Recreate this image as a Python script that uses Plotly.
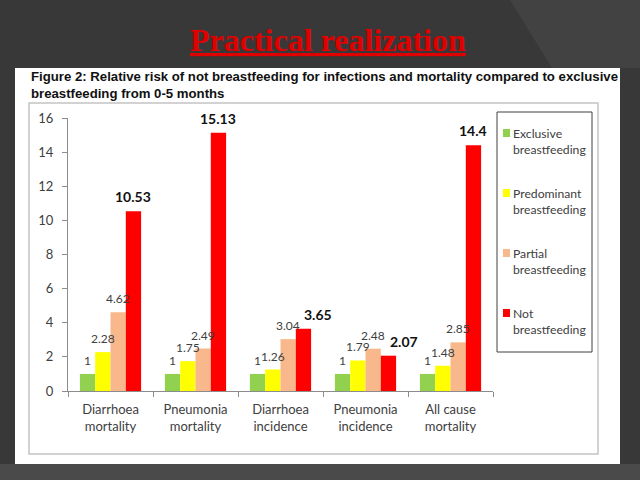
import plotly.graph_objects as go

categories = ["Diarrhoea<br>mortality", "Pneumonia<br>mortality", "Diarrhoea<br>incidence",
              "Pneumonia<br>incidence", "All cause<br>mortality"]
series_names = ["Exclusive<br>breastfeeding", "Predominant<br>breastfeeding",
                "Partial<br>breastfeeding", "Not<br>breastfeeding"]
exclusive = [1, 1, 1, 1, 1]
predominant = [2.28, 1.75, 1.26, 1.79, 1.48]
partial = [4.62, 2.49, 3.04, 2.48, 2.85]
not_bf = [10.53, 15.13, 3.65, 2.07, 14.4]
y_ticks = [0, 2, 4, 6, 8, 10, 12, 14, 16]

colors = ["#92d050", "#ffff00", "#f8b88b", "#ff0000"]
values = [exclusive, predominant, partial, not_bf]

W, H = 640, 480
L, R, T, B = 68, 493, 118, 391
FONT = "Lato, Open Sans, sans-serif"
BARGAP = 0.28
CAT_W = (R - L) / len(categories)
BAR_W = CAT_W * (1 - BARGAP) / len(values)
# labels of the "Not breastfeeding" series that were nudged right in the original
label_nudge = {(3, 2): 15, (3, 3): 16}


def px(x):
    return (x - L) / (R - L)


def py(y):
    return (B - y) / (B - T)


fig = go.Figure()
annotations = []
for i, (name, vals, col) in enumerate(zip(series_names, values, colors)):
    is_red = i == 3
    fig.add_trace(go.Bar(
        x=categories, y=vals, name=name, marker=dict(color=col, line=dict(width=0)),
        showlegend=False, hoverinfo="x+y+name",
    ))
    for j, (cat, v) in enumerate(zip(categories, vals)):
        annotations.append(dict(
            text=f"{v:g}", x=cat, y=v, xref="x", yref="y", showarrow=False,
            xanchor="center", yanchor="bottom",
            xshift=(i - (len(values) - 1) / 2) * BAR_W + label_nudge.get((i, j), 0),
            yshift=4,
            font=dict(family=FONT, size=14 if is_red else 12,
                      color="#111111" if is_red else "#404040",
                      weight="bold" if is_red else "normal"),
        ))

shapes = [
    # lighter diagonal band on background
    dict(type="path", xref="paper", yref="paper",
         path=f"M {px(510)},{py(0)} L {px(640)},{py(0)} L {px(640)},{py(68)} L {px(552)},{py(68)} Z",
         fillcolor="#424242", line=dict(width=0), layer="below"),
    # bottom band
    dict(type="rect", xref="paper", yref="paper", x0=px(0), x1=px(640), y0=py(480), y1=py(464),
         fillcolor="#4a4a4a", line=dict(width=0), layer="below"),
    # white panel
    dict(type="rect", xref="paper", yref="paper", x0=px(15), x1=px(620), y0=py(464), y1=py(68),
         fillcolor="white", line=dict(width=0), layer="below"),
    # inner chart border
    dict(type="rect", xref="paper", yref="paper", x0=px(29), x1=px(598), y0=py(454), y1=py(103),
         fillcolor="rgba(0,0,0,0)", line=dict(color="#c4c4c4", width=1.5), layer="below"),
    # legend box
    dict(type="rect", xref="paper", yref="paper", x0=px(497), x1=px(592), y0=py(352), y1=py(112),
         fillcolor="white", line=dict(color="#404040", width=1), layer="above"),
]

annotations += [
    dict(text="<u><b>Practical realization</b></u>", xref="paper", yref="paper",
         x=px(328), y=py(40), xanchor="center", yanchor="middle", showarrow=False,
         font=dict(family="Liberation Serif, Times New Roman, serif", size=32, color="#e00000")),
    dict(text="<b>Figure 2: Relative risk of not breastfeeding for infections and mortality compared to exclusive<br>breastfeeding from 0-5 months</b>",
         xref="paper", yref="paper", x=px(29), y=py(67), xanchor="left", yanchor="top",
         align="left", showarrow=False,
         font=dict(family="Liberation Sans, Arial, sans-serif", size=13.2, color="#111111")),
]

# manual legend (entries 60 px apart)
for i, (name, col) in enumerate(zip(series_names, colors)):
    y0 = 133 + 60 * i
    shapes.append(dict(type="rect", xref="paper", yref="paper",
                       x0=px(503), x1=px(510), y0=py(y0 + 4), y1=py(y0 - 4),
                       fillcolor=col, line=dict(width=0), layer="above"))
    annotations.append(dict(text=name, xref="paper", yref="paper", x=px(511), y=py(y0 - 9),
                            xanchor="left", yanchor="top", align="left", showarrow=False,
                            font=dict(family=FONT, size=12.2, color="#404040")))

fig.update_layout(
    width=W, height=H,
    margin=dict(l=L, r=W - R, t=T, b=H - B),
    paper_bgcolor="#383838", plot_bgcolor="white",
    barmode="group", bargap=BARGAP, bargroupgap=0,
    shapes=shapes, annotations=annotations, showlegend=False,
    font=dict(family=FONT, color="#404040", size=12.5),
    xaxis=dict(showline=True, linecolor="#8c8c8c", linewidth=1, ticks="outside",
               tickson="boundaries", ticklen=5, tickcolor="#8c8c8c", showgrid=False,
               ticklabelstandoff=6, tickfont=dict(size=13, color="#404040")),
    yaxis=dict(range=[0, 16], tickvals=y_ticks, showline=True, linecolor="#8c8c8c", linewidth=1,
               ticks="outside", ticklen=5, tickcolor="#8c8c8c", showgrid=False, zeroline=False,
               ticklabelstandoff=6, tickfont=dict(size=13, color="#404040")),
)

fig.write_html("out.html", config={"displayModeBar": False},
               post_script="document.body.style.margin='0px';")
